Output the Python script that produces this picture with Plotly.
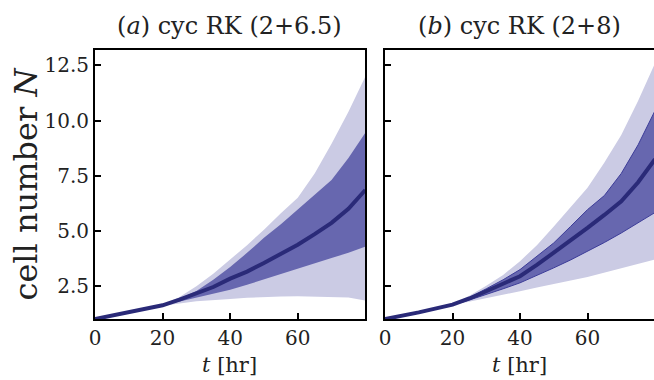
import plotly.graph_objects as go

# time points [hr]
t_hr = [0, 10, 20, 25, 30, 35, 40, 45, 50, 55, 60, 65, 70, 75, 80]

# panel (a): cyc RK (2+6.5)
a_mean     = [1.0, 1.30, 1.62, 1.88, 2.15, 2.45, 2.83, 3.15, 3.54, 3.95, 4.37, 4.85, 5.36, 6.00, 6.85]
a_dark_hi  = [1.0, 1.30, 1.63, 1.93, 2.27, 2.78, 3.36, 4.00, 4.68, 5.30, 5.96, 6.60, 7.30, 8.30, 9.45]
a_dark_lo  = [1.0, 1.30, 1.61, 1.80, 2.00, 2.15, 2.33, 2.55, 2.79, 3.02, 3.27, 3.52, 3.77, 4.00, 4.28]
a_light_hi = [1.0, 1.31, 1.64, 2.00, 2.48, 3.05, 3.69, 4.35, 5.05, 5.80, 6.50, 7.60, 8.95, 10.4, 12.0]
a_light_lo = [1.0, 1.29, 1.60, 1.70, 1.80, 1.86, 1.91, 1.96, 2.00, 2.02, 2.03, 2.02, 2.00, 1.97, 1.84]

# panel (b): cyc RK (2+8)
b_mean     = [1.0, 1.30, 1.65, 1.93, 2.26, 2.58, 2.94, 3.45, 4.00, 4.55, 5.13, 5.72, 6.34, 7.20, 8.25]
b_dark_hi  = [1.0, 1.30, 1.66, 1.98, 2.37, 2.78, 3.24, 3.85, 4.45, 5.20, 5.96, 6.60, 7.60, 8.90, 10.45]
b_dark_lo  = [1.0, 1.30, 1.64, 1.86, 2.10, 2.37, 2.64, 2.97, 3.32, 3.68, 4.07, 4.47, 4.90, 5.35, 5.83]
b_light_hi = [1.0, 1.31, 1.68, 2.05, 2.51, 3.00, 3.62, 4.35, 5.20, 6.05, 6.95, 8.10, 9.35, 10.9, 12.6]
b_light_lo = [1.0, 1.29, 1.62, 1.78, 1.96, 2.10, 2.26, 2.43, 2.60, 2.75, 2.91, 3.10, 3.32, 3.50, 3.70]

titles = ["(<i>a</i>) cyc RK (2+6.5)", "(<i>b</i>) cyc RK (2+8)"]
x_ticks = [0, 20, 40, 60]
y_ticks = [2.5, 5.0, 7.5, 10.0, 12.5]
y_tick_text = ["2.5", "5.0", "7.5", "10.0", "12.5"]

LIGHT = "#cbcbe4"
DARK = "#6767af"
LINE = "#2a2a78"
FONT = "DejaVu Serif"

fig = go.Figure()

panels = [
    ("x", "y", a_mean, a_dark_hi, a_dark_lo, a_light_hi, a_light_lo, 0),
    ("x2", "y2", b_mean, b_dark_hi, b_dark_lo, b_light_hi, b_light_lo, 1),
]
for xa, ya, mean, dhi, dlo, lhi, llo, edge in panels:
    fig.add_trace(go.Scatter(
        x=t_hr + t_hr[::-1], y=lhi + llo[::-1], xaxis=xa, yaxis=ya,
        fill="toself", fillcolor=LIGHT, mode="lines",
        line=dict(width=0, color=LIGHT), hoverinfo="skip", showlegend=False))
    fig.add_trace(go.Scatter(
        x=t_hr + t_hr[::-1], y=dhi + dlo[::-1], xaxis=xa, yaxis=ya,
        fill="toself", fillcolor=DARK, mode="lines",
        line=dict(width=1 if edge else 0, color="#3c3c98" if edge else DARK),
        hoverinfo="skip", showlegend=False))
    fig.add_trace(go.Scatter(
        x=t_hr, y=mean, xaxis=xa, yaxis=ya, mode="lines",
        line=dict(width=4, color=LINE), showlegend=False))

axis_common = dict(showgrid=False, zeroline=False, showline=True, linecolor="black",
                   linewidth=2, ticks="inside", ticklen=6, tickwidth=1.5,
                   tickcolor="black", tickfont=dict(family=FONT, size=20, color="#222"))

fig.update_layout(
    width=654, height=380,
    margin=dict(l=95, r=0, t=50, b=61),
    plot_bgcolor="white", paper_bgcolor="white",
    xaxis=dict(domain=[0, 0.483], range=[0, 79.9], tickvals=x_ticks, mirror=True, **axis_common),
    xaxis2=dict(domain=[0.5188, 1.0], range=[0, 79.7], tickvals=x_ticks, mirror=True, **axis_common),
    yaxis=dict(range=[1, 13.2], tickvals=y_ticks, ticktext=y_tick_text, mirror=True, anchor="x", **axis_common),
    yaxis2=dict(range=[1, 13.2], tickvals=y_ticks, showticklabels=False, mirror=False, anchor="x2", **axis_common),
)

annotations = []
# panel titles
for xr, title in zip(["x domain", "x2 domain"], titles):
    annotations.append(dict(text=title, xref=xr, yref="paper", x=0.5, y=1.0, yshift=24,
                            showarrow=False, font=dict(family=FONT, size=24, color="#222"),
                            xanchor="center", yanchor="middle"))
# x titles
for xr in ["x domain", "x2 domain"]:
    annotations.append(dict(text="<i>t</i> [hr]", xref=xr, yref="paper", x=0.5, y=0, yshift=-46,
                            showarrow=False, font=dict(family=FONT, size=21, color="#222"),
                            xanchor="center", yanchor="middle"))
# y title
annotations.append(dict(text="cell number <i>N</i>", xref="paper", yref="paper", x=0, xshift=-70,
                        y=0.5, showarrow=False, textangle=-90,
                        font=dict(family=FONT, size=32, color="#222"),
                        xanchor="center", yanchor="middle"))
fig.update_layout(annotations=annotations)

fig.write_html("out.html")
